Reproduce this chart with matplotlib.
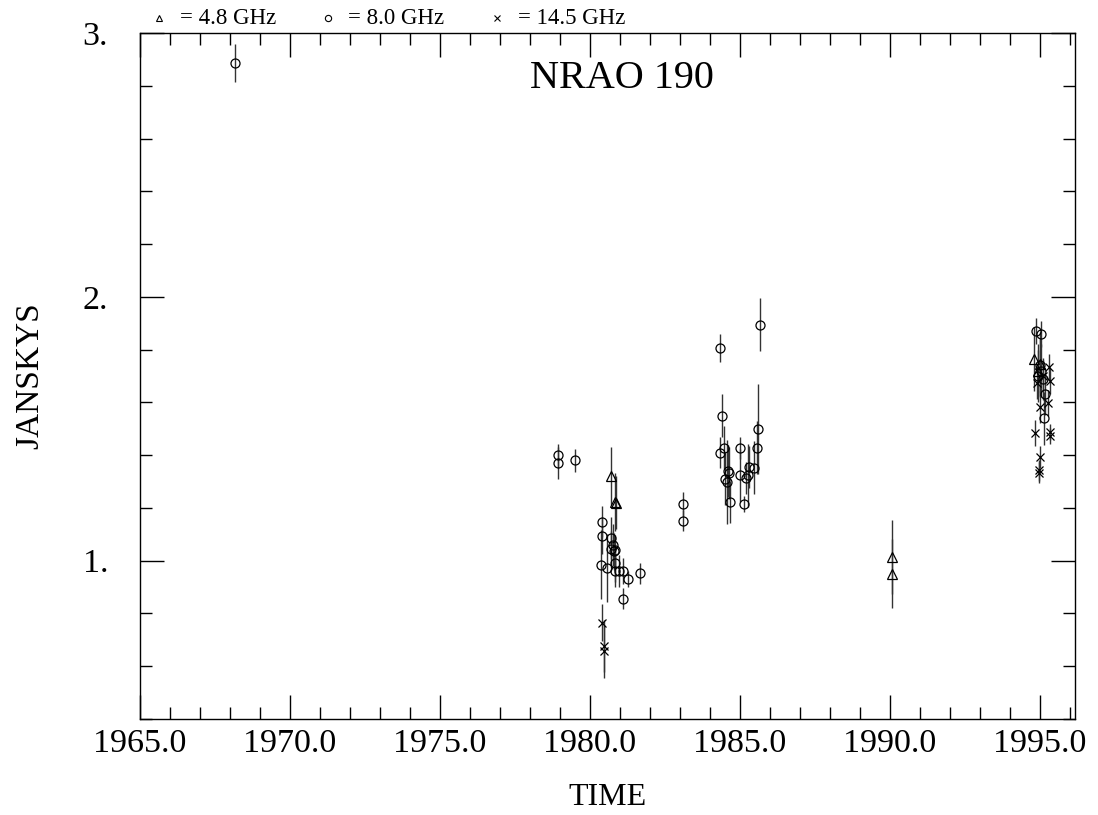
import matplotlib
matplotlib.use("Agg")
import matplotlib.pyplot as plt
from matplotlib.ticker import MultipleLocator, FuncFormatter

plt.rcParams['font.family'] = ['Liberation Serif', 'DejaVu Serif']

# 4.8 GHz (triangles)
yr_48 = [1980.69, 1980.83, 1980.88, 1990.07, 1990.07, 1994.81, 1995.0, 1994.95]
jy_48 = [1.32, 1.222, 1.22, 1.015, 0.951, 1.765, 1.746, 1.72]
er_48 = [0.11, 0.11, 0.10, 0.14, 0.13, 0.12, 0.12, 0.10]

# 8.0 GHz (circles)
yr_80 = [1968.17, 1978.93, 1978.93, 1979.50,
         1980.40, 1980.40, 1980.36, 1980.56, 1980.69, 1980.76, 1980.71, 1980.81,
         1980.84, 1980.83, 1980.84, 1980.98, 1981.11, 1981.28, 1981.10, 1981.67,
         1983.10, 1983.10,
         1984.34, 1984.42, 1984.47, 1984.33, 1984.61, 1984.64, 1984.50, 1984.56,
         1984.67, 1985.02, 1985.02, 1985.14, 1985.22, 1985.26, 1985.30, 1985.47,
         1985.59, 1985.58, 1985.67,
         1994.86, 1995.03, 1995.17, 1995.15, 1995.00, 1995.05, 1994.95, 1995.10]
jy_80 = [2.886, 1.399, 1.370, 1.380,
         1.148, 1.094, 0.985, 0.972, 1.087, 1.060, 1.043, 1.035,
         1.039, 0.990, 0.960, 0.960, 0.960, 0.930, 0.856, 0.952,
         1.216, 1.152,
         1.807, 1.550, 1.429, 1.410, 1.340, 1.332, 1.310, 1.298,
         1.222, 1.427, 1.323, 1.216, 1.314, 1.323, 1.355, 1.352,
         1.500, 1.428, 1.894,
         1.870, 1.860, 1.633, 1.540, 1.740, 1.720, 1.700, 1.690]
er_80 = [0.072, 0.045, 0.06, 0.045,
         0.06, 0.07, 0.13, 0.13, 0.08, 0.08, 0.07, 0.07,
         0.06, 0.07, 0.06, 0.06, 0.05, 0.03, 0.04, 0.04,
         0.045, 0.04,
         0.053, 0.08, 0.08, 0.06, 0.10, 0.10, 0.10, 0.16,
         0.08, 0.04, 0.10, 0.03, 0.06, 0.12, 0.08, 0.10,
         0.17, 0.10, 0.10,
         0.05, 0.05, 0.08, 0.10, 0.10, 0.10, 0.10, 0.08]

# 14.5 GHz (crosses)
yr_145 = [1980.41, 1980.47, 1980.47,
          1994.83, 1995.02, 1994.98, 1994.98, 1995.33, 1995.33, 1995.02,
          1995.26, 1995.33, 1995.30, 1994.92, 1995.11]
jy_145 = [0.765, 0.677, 0.656,
          1.484, 1.393, 1.342, 1.333, 1.487, 1.472, 1.582,
          1.598, 1.680, 1.733, 1.673, 1.700]
er_145 = [0.07, 0.10, 0.10,
          0.05, 0.04, 0.04, 0.04, 0.03, 0.03, 0.06,
          0.05, 0.05, 0.05, 0.06, 0.06]

fig = plt.figure(figsize=(10.98, 8.15), dpi=100)
ax = fig.add_axes([0.1275, 0.1178, 0.8515, 0.8417])

ekw = dict(linestyle='none', ecolor='#333333', elinewidth=1.0, capsize=0,
           mfc='none', mec='black', mew=0.9)
ax.errorbar(yr_48, jy_48, yerr=er_48, marker='^', ms=7, **ekw)
ax.errorbar(yr_80, jy_80, yerr=er_80, marker='o', ms=6.5, **ekw)
ax.errorbar(yr_145, jy_145, yerr=er_145, marker='x', ms=5.5, **ekw)

ax.set_xlim(1965.0, 1996.17)
ax.set_ylim(0.4, 3.0)
ax.xaxis.set_major_locator(MultipleLocator(5))
ax.xaxis.set_minor_locator(MultipleLocator(1))
ax.yaxis.set_major_locator(MultipleLocator(1))
ax.yaxis.set_minor_locator(MultipleLocator(0.2))
ax.xaxis.set_major_formatter(FuncFormatter(lambda v, p: '%.1f' % v))
ax.yaxis.set_major_formatter(FuncFormatter(lambda v, p: '%d.' % round(v)))
ax.tick_params(which='both', direction='in', top=True, right=True, width=1.0)
ax.tick_params(which='major', length=17)
ax.tick_params(which='minor', length=8.5)
ax.tick_params(axis='x', which='major', labelsize=24.5, pad=7)
ax.tick_params(axis='y', which='major', labelsize=24.5, pad=23)
for s in ax.spines.values():
    s.set_linewidth(1.0)

ax.set_xlabel('TIME', fontsize=23, labelpad=17)
ax.set_ylabel('JANSKYS', fontsize=24, labelpad=27)
ax.text(0.515, 0.96, 'NRAO 190', transform=ax.transAxes, ha='center', va='top',
        fontsize=29)

# legend row above the frame
leg = [('^', '= 4.8 GHz', 159, 180), ('o', '= 8.0 GHz', 328, 348),
       ('x', '= 14.5 GHz', 497, 518)]
for m, t, xm, xt in leg:
    fig.lines.append(plt.Line2D([xm / 1098], [1 - 18 / 815], marker=m, ms=4.5,
                                mfc='none', mec='black', mew=0.8,
                                transform=fig.transFigure, figure=fig))
    fig.text(xt / 1098, 1 - 19 / 815, t, fontsize=16.5, va='center', ha='left')

fig.savefig('out.png', dpi=100)
